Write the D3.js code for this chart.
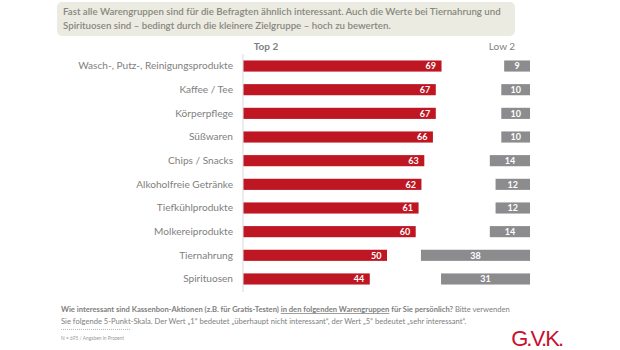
<!DOCTYPE html>
<html>
<head>
<meta charset="utf-8">
<script src="https://d3js.org/d3.v7.min.js"></script>
<style>
  body { margin: 0; background: #fff; }
  svg { display: block; font-family: Lato, "Open Sans", sans-serif; }
</style>
</head>
<body>
<div id="chart"></div>
<script>
// data
var categories = ["Wasch-, Putz-, Reinigungsprodukte", "Kaffee / Tee", "Körperpflege", "Süßwaren",
  "Chips / Snacks", "Alkoholfreie Getränke", "Tiefkühlprodukte", "Molkereiprodukte", "Tiernahrung", "Spirituosen"];
var top2 = [69, 67, 67, 66, 63, 62, 61, 60, 50, 44];
var low2 = [9, 10, 10, 10, 14, 12, 12, 14, 38, 31];
var seriesNames = ["Top 2", "Low 2"];

var titleLines = ["Fast alle Warengruppen sind für die Befragten ähnlich interessant. Auch die Werte bei Tiernahrung und",
  "Spirituosen sind – bedingt durch die kleinere Zielgruppe – hoch zu bewerten."];

var width = 620, height = 350;
var red = "#be1622", grey = "#8c8c8e", txt = "#808080";

var svg = d3.select("#chart").append("svg")
  .attr("width", width).attr("height", height);

// title box
svg.append("rect").attr("x", 57).attr("y", 2).attr("width", 458).attr("height", 34)
  .attr("rx", 5).attr("fill", "#ecebe1");
svg.selectAll(".title").data(titleLines).enter().append("text")
  .attr("class", "title")
  .attr("x", 63).attr("y", function(d, i) { return 15 + i * 14; })
  .attr("font-size", 9.7).attr("font-weight", 600).attr("fill", "#87877f")
  .text(function(d) { return d; });

var y = d3.scaleBand().domain(categories).range([54.2, 290.8])
  .paddingInner(0.53).paddingOuter(0.265);
var x = d3.scaleLinear().domain([0, 100]).range([0, 287]);
var x0 = 243, lowRight = 530;

// category axis
var yAxis = svg.append("g").attr("transform", "translate(" + x0 + ",0)")
  .call(d3.axisLeft(y).tickSize(0).tickPadding(10));
yAxis.select(".domain").attr("stroke", "#d9d9d9").attr("d", "M0,54V292");
yAxis.selectAll("text").attr("font-size", 10.1).attr("fill", txt)
  .attr("font-family", "Lato, 'Open Sans', sans-serif");

// headers
svg.append("text").attr("x", 266).attr("y", 50).attr("text-anchor", "middle")
  .attr("font-size", 10).attr("font-weight", 700).attr("fill", txt).text(seriesNames[0]);
svg.append("text").attr("x", 502).attr("y", 50).attr("text-anchor", "middle")
  .attr("font-size", 10).attr("fill", txt).text(seriesNames[1]);

// top 2 bars
var rows = categories.map(function(c, i) { return { cat: c, top: top2[i], low: low2[i] }; });

svg.selectAll(".top").data(rows).enter().append("rect")
  .attr("class", "top")
  .attr("x", x0 + 0.5).attr("y", function(d) { return y(d.cat); })
  .attr("width", function(d) { return x(d.top); })
  .attr("height", y.bandwidth())
  .attr("fill", red);
svg.selectAll(".topl").data(rows).enter().append("text")
  .attr("class", "topl")
  .attr("x", function(d) { return x0 + x(d.top) - 5; })
  .attr("y", function(d) { return y(d.cat) + y.bandwidth() / 2 + 3.2; })
  .attr("text-anchor", "end").attr("font-size", 9).attr("font-weight", 700).attr("fill", "#fff")
  .text(function(d) { return d.top; });

// low 2 bars, right aligned
svg.selectAll(".low").data(rows).enter().append("rect")
  .attr("class", "low")
  .attr("x", function(d) { return lowRight - x(d.low); })
  .attr("y", function(d) { return y(d.cat); })
  .attr("width", function(d) { return x(d.low); })
  .attr("height", y.bandwidth())
  .attr("fill", grey);
svg.selectAll(".lowl").data(rows).enter().append("text")
  .attr("class", "lowl")
  .attr("x", function(d) { return lowRight - x(d.low) / 2; })
  .attr("y", function(d) { return y(d.cat) + y.bandwidth() / 2 + 3.2; })
  .attr("text-anchor", "middle").attr("font-size", 9).attr("font-weight", 700).attr("fill", "#fff")
  .text(function(d) { return d.low; });

// footer question
var q1 = svg.append("text").attr("x", 61).attr("y", 312).attr("font-size", 7.6).attr("fill", txt);
q1.append("tspan").attr("font-weight", 700).text("Wie interessant sind Kassenbon-Aktionen (z.B. für Gratis-Testen) ");
q1.append("tspan").attr("font-weight", 700).attr("text-decoration", "underline").text("in den folgenden Warengruppen");
q1.append("tspan").attr("font-weight", 700).text(" für Sie persönlich?");
q1.append("tspan").text(" Bitte verwenden");
svg.append("text").attr("x", 61).attr("y", 324).attr("font-size", 7.6).attr("fill", txt)
  .text("Sie folgende 5-Punkt-Skala. Der Wert „1“ bedeutet „überhaupt nicht interessant“, der Wert „5“ bedeutet „sehr interessant“.");
svg.append("line").attr("x1", 61).attr("x2", 131).attr("y1", 329.5).attr("y2", 329.5)
  .attr("stroke", "#999").attr("stroke-width", 0.7).attr("stroke-dasharray", "1,1");
svg.append("text").attr("x", 61).attr("y", 340).attr("font-size", 4.8).attr("fill", "#999")
  .text("N = 695 / Angaben in Prozent");

// logo
svg.append("text").attr("x", 562).attr("y", 346).attr("text-anchor", "end")
  .attr("font-size", 22).attr("fill", "#c8102e").attr("font-family", "'Liberation Sans Narrow', 'Liberation Sans', sans-serif")
  .attr("letter-spacing", -2).text("G.V.K.");
</script>
</body>
</html>
